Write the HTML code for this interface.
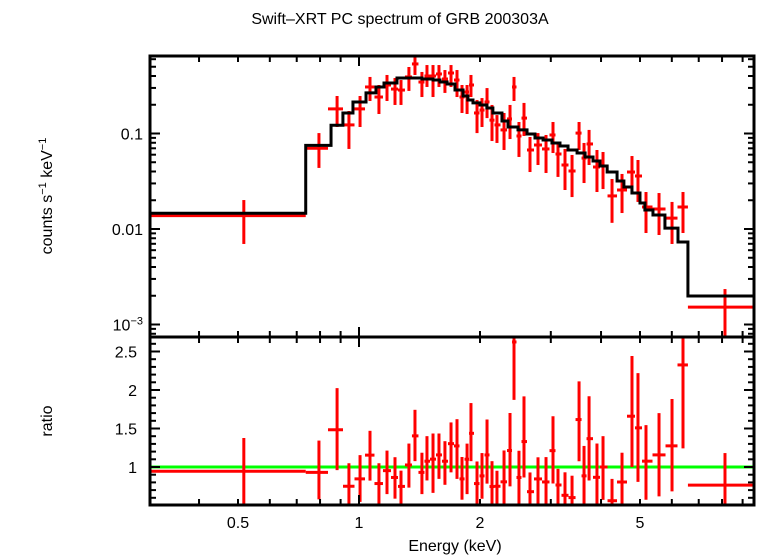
<!DOCTYPE html>
<html><head><meta charset="utf-8"><style>
html,body{margin:0;padding:0;background:#fff;}
svg{display:block;font-family:"Liberation Sans",sans-serif;}
</style></head><body>
<svg id="chart" width="758" height="556" viewBox="0 0 758 556" xmlns="http://www.w3.org/2000/svg">
<text x="400" y="24" font-size="16" text-anchor="middle">Swift–XRT PC spectrum of GRB 200303A</text>
<text transform="translate(52,196) rotate(-90)" font-size="16" text-anchor="middle">counts s<tspan font-size="11" dy="-6">−1</tspan><tspan dy="6"> keV</tspan><tspan font-size="11" dy="-6">−1</tspan></text>
<text transform="translate(52,421) rotate(-90)" font-size="16" text-anchor="middle">ratio</text>
<text x="455" y="551" font-size="16" text-anchor="middle">Energy (keV)</text>
<g id="top"></g>
<g id="bot"></g>
<g id="frame"></g>
</svg>
<script>
// model (step function)
const modelEdges=[0.302,0.737,0.852,0.912,0.966,1.041,1.102,1.154,1.243,1.434,1.528,1.590,1.656,1.733,1.815,1.866,1.921,2.000,2.080,2.153,2.268,2.348,2.486,2.618,2.740,2.870,3.020,3.162,3.311,3.487,3.651,3.821,3.976,4.143,4.385,4.560,4.775,5.000,5.142,5.386,5.768,6.216,6.580,9.61];
const modelValues=[0.0146,0.0752,0.122,0.164,0.214,0.266,0.307,0.338,0.381,0.372,0.363,0.346,0.330,0.285,0.247,0.224,0.209,0.199,0.185,0.164,0.135,0.117,0.109,0.0989,0.0897,0.0855,0.0796,0.0740,0.0672,0.0625,0.0568,0.0515,0.0457,0.0395,0.0318,0.0275,0.0238,0.0187,0.0158,0.0140,0.0102,0.00731,0.00199];
// data points
const dataEnergy=[0.517,0.795,0.882,0.944,1.006,1.065,1.121,1.174,1.229,1.272,1.331,1.378,1.434,1.476,1.528,1.581,1.636,1.694,1.753,1.804,1.857,1.899,1.966,2.023,2.082,2.142,2.204,2.295,2.375,2.430,2.500,2.573,2.663,2.788,2.919,3.038,3.126,3.254,3.388,3.527,3.629,3.735,3.908,4.046,4.260,4.511,4.776,4.943,5.175,5.576,6.007,6.397,8.136];
const dataValue=[0.0138,0.070,0.181,0.123,0.181,0.307,0.241,0.322,0.292,0.285,0.391,0.535,0.346,0.400,0.400,0.420,0.372,0.430,0.363,0.241,0.272,0.322,0.164,0.176,0.214,0.138,0.123,0.109,0.142,0.307,0.0942,0.145,0.0672,0.0758,0.0689,0.0965,0.0610,0.0468,0.0405,0.101,0.0553,0.0777,0.0446,0.0457,0.0222,0.0256,0.0395,0.0359,0.0170,0.0162,0.0130,0.0170,0.00152];
const dataHigh=[0.0201,0.101,0.247,0.172,0.247,0.391,0.322,0.410,0.381,0.363,0.497,0.664,0.441,0.521,0.521,0.521,0.462,0.521,0.462,0.322,0.322,0.410,0.224,0.235,0.299,0.199,0.156,0.164,0.199,0.391,0.132,0.209,0.0919,0.101,0.0965,0.132,0.0777,0.0689,0.0596,0.132,0.0796,0.109,0.0672,0.0640,0.0334,0.0377,0.0581,0.0528,0.0244,0.0238,0.0192,0.0244,0.00235];
const dataLow=[0.00697,0.0436,0.117,0.0689,0.117,0.219,0.160,0.219,0.199,0.199,0.279,0.410,0.241,0.307,0.241,0.307,0.266,0.307,0.241,0.164,0.160,0.241,0.101,0.117,0.145,0.0834,0.0796,0.0672,0.0875,0.219,0.0568,0.0942,0.0395,0.0468,0.0386,0.0625,0.0351,0.0256,0.0216,0.0672,0.0303,0.0468,0.0244,0.0262,0.0116,0.0147,0.0238,0.0192,0.00908,0.00865,0.00697,0.00908,0.0005];
const firstBin=[0.302,0.737];
const lastBin=[6.58,9.61];
const xTickLabels=["0.5","1","2","5"];
const xTickValues=[0.5,1,2,5];
const yTopTickValues=[0.1,0.01,0.001];
const yBotTickValues=[1,1.5,2,2.5];

const NS="http://www.w3.org/2000/svg";
const L=150,R=754,T1=56,B1=337,T2=337,B2=505;
const xLo=Math.pow(10,(L-359)/402), xHi=Math.pow(10,(R-359)/402);
const X=e=>L+(Math.log10(e)-Math.log10(xLo))/(Math.log10(xHi)-Math.log10(xLo))*(R-L);
const Y1=v=>133.5-95.5*(Math.log10(v)+1);
const Y2=r=>467-77*(r-1);
function el(tag,attrs,parent){const e=document.createElementNS(NS,tag);for(const k in attrs)e.setAttribute(k,attrs[k]);parent.appendChild(e);return e;}
const gTop=document.getElementById('top'),gBot=document.getElementById('bot'),fr=document.getElementById('frame');
const clamp=(v,a,b)=>Math.max(a,Math.min(b,v));
function modelAt(e){for(let i=0;i<modelValues.length;i++){if(e>=modelEdges[i]&&e<modelEdges[i+1])return modelValues[i];}return modelValues[modelValues.length-1];}

// data bin edges (geometric midpoints)
const N=dataEnergy.length, lo=[],hi=[];
for(let i=0;i<N;i++){
  lo.push(i===0?firstBin[0]:(i===1?firstBin[1]:(i===N-1?lastBin[0]:Math.sqrt(dataEnergy[i-1]*dataEnergy[i]))));
  hi.push(i===0?firstBin[1]:(i===N-1?lastBin[1]:(i===N-2?lastBin[0]:Math.sqrt(dataEnergy[i]*dataEnergy[i+1]))));
}
// data (top)
for(let i=0;i<N;i++){
  const g=el('g',{},gTop);
  
  
  const cx=X(dataEnergy[i]);
  el('line',{x1:clamp(X(lo[i]),L,R),x2:clamp(X(hi[i]),L,R),y1:Y1(dataValue[i]),y2:Y1(dataValue[i]),stroke:'#f00','stroke-width':3},g);
  el('line',{x1:cx,x2:cx,y1:clamp(Y1(dataHigh[i]),T1,B1),y2:clamp(Y1(dataLow[i]),T1,B1),stroke:'#f00','stroke-width':3},g);
}
// model
let d='';
for(let i=0;i<modelValues.length;i++){const y=Y1(modelValues[i]);d+=(i===0?'M':'L')+X(modelEdges[i])+','+y+'L'+Math.min(R,X(modelEdges[i+1]))+','+y;}
const mp=el('path',{d:d,fill:'none',stroke:'#000','stroke-width':3},gTop);


// ratio
const gl=el('line',{x1:L,x2:R,y1:Y2(1),y2:Y2(1),stroke:'#0f0','stroke-width':3},gBot);


for(let i=0;i<N;i++){
  const m=modelAt(dataEnergy[i]);
  const g=el('g',{},gBot);
  
  
  const cx=X(dataEnergy[i]);const ry=Y2(dataValue[i]/m);
  if(ry>=T2&&ry<=B2) el('line',{x1:clamp(X(lo[i]),L,R),x2:clamp(X(hi[i]),L,R),y1:ry,y2:ry,stroke:'#f00','stroke-width':3},g);
  el('line',{x1:cx,x2:cx,y1:clamp(Y2(dataHigh[i]/m),T2,B2),y2:clamp(Y2(dataLow[i]/m),T2,B2),stroke:'#f00','stroke-width':3},g);
}
// frame
el('rect',{x:L,y:T1,width:R-L,height:B2-T1,fill:'none',stroke:'#000','stroke-width':3},fr);
el('line',{x1:L,x2:R,y1:B1,y2:B1,stroke:'#000','stroke-width':3},fr);
// x ticks
const ax=el('g',{stroke:'#000','stroke-width':2},fr);
for(let dec=0.1;dec<=10;dec*=10){for(let k=1;k<10;k++){const e=dec*k;if(e<xLo||e>xHi)continue;const x=X(e);const len=(Math.abs(e-1)<1e-9||Math.abs(e-10)<1e-9)?10:6;
  [[T1,1],[B1,-1],[T2,1],[B2,-1]].forEach(([y,s])=>el('line',{x1:x,x2:x,y1:y,y2:y+s*len},ax));}}
xTickLabels.forEach((t,i)=>{const tx=el('text',{x:X(xTickValues[i]),y:528,'font-size':16,'text-anchor':'middle'},fr);tx.textContent=t;});
// y ticks top
for(let dec=0.0001;dec<=1;dec*=10){for(let k=1;k<10;k++){const v=dec*k;const y=Y1(v);if(y<T1||y>B1)continue;const len=k===1?10:6;
  el('line',{x1:L,x2:L+len,y1:y,y2:y},ax);el('line',{x1:R,x2:R-len,y1:y,y2:y},ax);}}
[["0.1",0.1],["0.01",0.01]].forEach(([t,v])=>{const tx=el('text',{x:143,y:Y1(v)+6,'font-size':16,'text-anchor':'end'},fr);tx.textContent=t;});
{const tx=el('text',{x:143,y:Y1(yTopTickValues[2])+6,'font-size':16,'text-anchor':'end'},fr);tx.innerHTML='10<tspan font-size="11" dy="-6">−3</tspan>';}
// y ticks bottom
for(let r=0.5;r<=2.7;r+=0.1){const y=Y2(r);if(y<T2||y>B2)continue;const major=Math.abs(r*2-Math.round(r*2))<1e-6;const len=major?10:6;
  el('line',{x1:L,x2:L+len,y1:y,y2:y},ax);el('line',{x1:R,x2:R-len,y1:y,y2:y},ax);}
yBotTickValues.forEach(v=>{const tx=el('text',{x:137,y:Y2(v)+6,'font-size':16,'text-anchor':'end'},fr);tx.textContent=String(v);});
</script>
</body></html>
